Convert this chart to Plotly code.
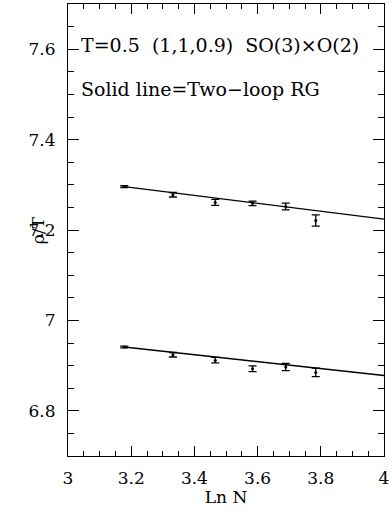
import plotly.graph_objects as go

# Data
ln_n = [3.178, 3.332, 3.466, 3.584, 3.689, 3.784]
rho_upper = [7.296, 7.278, 7.261, 7.259, 7.252, 7.221]
err_upper = [0.002, 0.005, 0.0067, 0.005, 0.0074, 0.0126]
rho_lower = [6.941, 6.924, 6.912, 6.893, 6.897, 6.885]
err_lower = [0.002, 0.005, 0.006, 0.0063, 0.008, 0.0093]

rg_x = [3.178, 4.0]
rg_upper = [7.296, 7.224]
rg_lower = [6.941, 6.878]

x_tickvals = [3, 3.2, 3.4, 3.6, 3.8, 4]
x_ticktext = ["3", "3.2", "3.4", "3.6", "3.8", "4"]
y_tickvals = [6.8, 7.0, 7.2, 7.4, 7.6]
y_ticktext = ["6.8", "7", "7.2", "7.4", "7.6"]

FONT = "DejaVu Serif"

fig = go.Figure()
for ys, es in [(rho_upper, err_upper), (rho_lower, err_lower)]:
    fig.add_trace(go.Scatter(
        x=ln_n, y=ys, mode="markers",
        marker=dict(size=3, color="black"),
        error_y=dict(type="data", array=es, visible=True, color="black",
                     thickness=1.3, width=4),
        showlegend=False))
for ys in [rg_upper, rg_lower]:
    fig.add_trace(go.Scatter(
        x=rg_x, y=ys, mode="lines",
        line=dict(color="black", width=1.4), showlegend=False))

axis_common = dict(
    showgrid=False, zeroline=False, showline=True, linecolor="black",
    linewidth=1.2, mirror="ticks", ticks="inside", tickcolor="black",
    tickwidth=1, ticklabeloverflow="allow",
    tickfont=dict(family=FONT, size=17, color="black"))

fig.update_xaxes(
    range=[3, 4], tickvals=x_tickvals, ticktext=x_ticktext, ticklen=10,
    ticklabelstandoff=6,
    minor=dict(dtick=0.05, tick0=3, ticks="inside", ticklen=5,
               tickcolor="black", tickwidth=1),
    title=dict(text="Ln N", font=dict(family=FONT, size=17, color="black"),
               standoff=2),
    **axis_common)
fig.update_yaxes(
    range=[6.7, 7.7], tickvals=y_tickvals, ticktext=y_ticktext, ticklen=11,
    ticklabelstandoff=8,
    minor=dict(dtick=0.05, tick0=6.7, ticks="inside", ticklen=6,
               tickcolor="black", tickwidth=1),
    **axis_common)

fig.add_annotation(x=-0.094, y=7.2, xref="paper", yref="y",
                   text="ρ/T", showarrow=False, textangle=-90,
                   xanchor="center", yanchor="middle",
                   font=dict(family=FONT, size=17, color="black"))
fig.add_annotation(x=0.035, y=7.61, xref="paper", yref="y",
                   text="T=0.5  (1,1,0.9)  SO(3)×O(2)", showarrow=False,
                   xanchor="left", yanchor="middle",
                   font=dict(family=FONT, size=19, color="black"))
fig.add_annotation(x=0.035, y=7.513, xref="paper", yref="y",
                   text="Solid line=Two−loop RG", showarrow=False,
                   xanchor="left", yanchor="middle",
                   font=dict(family=FONT, size=19, color="black"))

fig.update_layout(
    width=392, height=514,
    margin=dict(l=68, r=4, t=3, b=58),
    plot_bgcolor="white", paper_bgcolor="white")

fig.write_html("out.html")
